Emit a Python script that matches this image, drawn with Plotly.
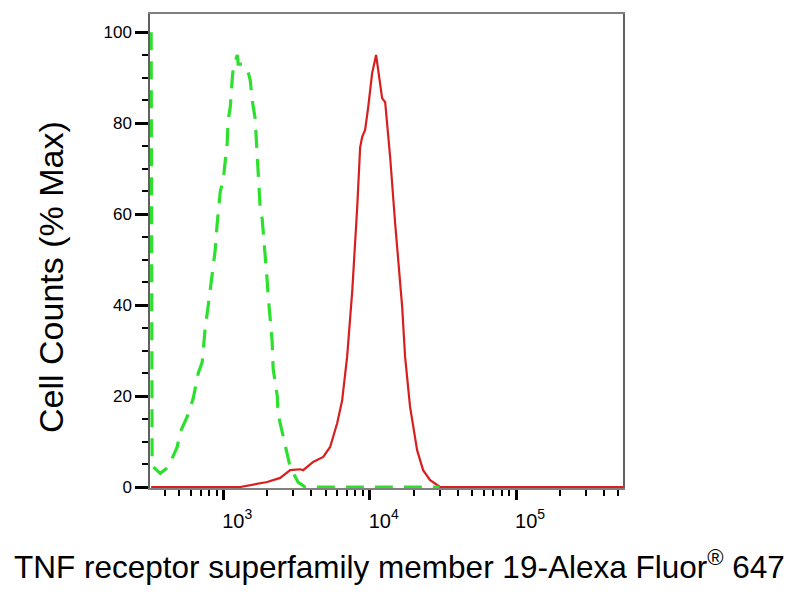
import plotly.graph_objects as go

# Isotype control (green dashed)
green_x = [322, 327, 333, 372, 422, 485, 508, 577, 624, 675, 719, 753, 791, 855, 881, 910,
           955, 1000, 1033, 1064, 1081, 1117, 1151, 1170, 1247, 1265, 1349, 1459, 1528, 1578,
           1652, 1706, 1734, 1791, 1845, 1875, 1936, 1995, 2028, 2094, 2158, 2193, 2339, 2371,
           2529, 2649, 2864, 3251, 3630, 30000]
green_y = [100, 6, 4.4, 3, 4.4, 8.8, 12, 16, 19.5, 25, 27.5, 35, 40, 48, 52, 58,
           65, 67.5, 72.5, 75.6, 80.7, 83.5, 89.5, 92, 95, 93, 93, 92, 89.5, 85,
           81, 74, 68, 61, 59, 56.5, 51.4, 45.5, 42, 36, 32, 26, 20, 16,
           12, 9, 4.4, 1, 0, 0]

# Sample (red solid)
red_x = [322, 1306, 1995, 2449, 2864, 3357, 3516, 4111, 4819, 5370, 5998, 6486, 7015, 7603,
         8222, 8610, 8892, 9311, 9772, 10399, 11066, 11429, 12162, 12764, 13804, 14928, 15668,
         16672, 17458, 18880, 21086, 23174, 25882, 30269, 537000]
red_y = [0, 0, 1.1, 2, 3.7, 3.9, 3.7, 5.5, 6.6, 8.8, 14, 19, 28.6, 43,
         61.5, 74.7, 77, 78.5, 83.5, 91, 95, 92, 85.5, 84.6, 72.5, 58, 50.5,
         39.6, 28.6, 17.6, 8.1, 3.7, 1.5, 0, 0]

y_ticks = [0, 20, 40, 60, 80, 100]
x_major = [1e3, 1e4, 1e5]
x_major_text = ["10<sup>3</sup>", "10<sup>4</sup>", "10<sup>5</sup>"]

x_title = "TNF receptor superfamily member 19-Alexa Fluor<sup>®</sup> 647"
y_title = "Cell Counts (% Max)"

minor_x = [m * 10 ** d for d in (2, 3, 4, 5) for m in range(2, 10) if 350 < m * 10 ** d < 540000]

# page body has an 8px margin: the figure is placed at (8, 8)
OFF = 8
W, H = 800 - OFF, 600 - OFF
l, r, t, b = 150 - OFF, 177, 14 - OFF, 112
pw, ph = W - l - r, H - t - b


def paper_xy(px, py):
    """page pixel -> paper coordinates"""
    return (px - OFF - l) / pw, (H - b - (py - OFF)) / ph


fig = go.Figure()
fig.add_trace(go.Scatter(x=red_x, y=red_y, mode="lines",
                         line=dict(color="#d81e1e", width=2.2), showlegend=False))
fig.add_trace(go.Scatter(x=green_x, y=green_y, mode="lines",
                         line=dict(color="#2ee02e", width=3.2, dash="18px,11px"), showlegend=False))

FONT = "Liberation Sans, Arial, sans-serif"

yx, yy = paper_xy(51, 277)
xx, xy = paper_xy(399, 565)

fig.update_layout(
    width=W, height=H,
    margin=dict(l=l, r=r, t=t, b=b, autoexpand=False),
    paper_bgcolor="white", plot_bgcolor="white",
    font=dict(family=FONT, color="black"),
    xaxis=dict(
        type="log", range=[2.5, 5.73],
        tickmode="array", tickvals=x_major, ticktext=x_major_text,
        ticks="outside", ticklen=10, tickwidth=3, tickcolor="black",
        tickfont=dict(size=20, family=FONT),
        ticklabelshift=14, ticklabelstandoff=4,
        showgrid=False, zeroline=False,
        showline=True, linecolor="#808080", linewidth=1.5, mirror=True,
        minor=dict(tickmode="array", tickvals=minor_x, ticks="outside",
                   ticklen=6, tickwidth=1.5, tickcolor="black", showgrid=False),
    ),
    yaxis=dict(
        range=[-0.22, 104],
        tickmode="array", tickvals=y_ticks,
        ticks="outside", ticklen=13, tickwidth=3, tickcolor="black",
        tickfont=dict(size=17, family=FONT),
        showgrid=False, zeroline=False,
        showline=True, linecolor="#606060", linewidth=1.5, mirror=True,
        minor=dict(dtick=5, ticks="outside", ticklen=6, tickwidth=1.5,
                   tickcolor="black", showgrid=False),
    ),
    annotations=[
        dict(text=y_title, x=yx, y=yy, xref="paper", yref="paper", showarrow=False,
             textangle=-90, font=dict(size=34, family=FONT, color="black"),
             xanchor="center", yanchor="middle"),
        dict(text=x_title, x=xx, y=xy, xref="paper", yref="paper", showarrow=False,
             font=dict(size=31.5, family=FONT, color="black"),
             xanchor="center", yanchor="middle"),
    ],
)

fig.write_html("out.html")
